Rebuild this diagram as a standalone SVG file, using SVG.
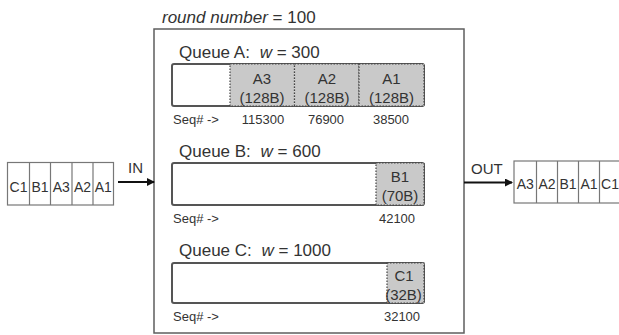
<svg xmlns="http://www.w3.org/2000/svg" width="619" height="335" viewBox="0 0 619 335">
  <style>
    .t { font-family: "Liberation Sans", Arial, sans-serif; fill: #333; }
    .title { font-size: 17px; }
    .seq { font-size: 13px; }
    .pkt { font-size: 15px; text-anchor: middle; }
    .cell { font-size: 14px; text-anchor: middle; }
    .frame { fill: #fff; stroke: #5e5e5e; stroke-width: 1.5; }
    .queue { fill: #fff; stroke: #555; stroke-width: 2; }
    .packet { fill: #c9c9c9; stroke: #444; stroke-width: 1.2; stroke-dasharray: 1.5 1.5; }
    .line { stroke: #777; stroke-width: 1.2; fill: #fff; }
    .arrow { stroke: #111; stroke-width: 2.2; fill: none; }
  </style>
  <defs>
    <marker id="head" markerWidth="8" markerHeight="8" refX="7" refY="4" orient="auto" markerUnits="userSpaceOnUse">
      <path d="M0,0 L8,4 L0,8 Z" fill="#111"/>
    </marker>
  </defs>

  <rect width="619" height="335" fill="#fff"/>

  <!-- scheduler frame -->
  <g id="scheduler">
    <text class="t title" x="162" y="22.5"><tspan font-style="italic">round number</tspan> = 100</text>
    <rect class="frame" x="154" y="29" width="310" height="304"/>
  </g>

  <!-- Queue A -->
  <g id="queueA">
    <text class="t title" x="179" y="58">Queue A: <tspan font-style="italic" dx="5">w</tspan> = 300</text>
    <rect class="queue" x="172" y="64" width="252" height="42" rx="2"/>
    <rect class="packet" x="230" y="64" width="64.5" height="42"/>
    <rect class="packet" x="294.5" y="64" width="64.5" height="42"/>
    <rect class="packet" x="359" y="64" width="65" height="42"/>
    <text class="t pkt" x="262" y="84">A3</text>
    <text class="t pkt" x="262" y="102.5">(128B)</text>
    <text class="t pkt" x="327" y="84">A2</text>
    <text class="t pkt" x="327" y="102.5">(128B)</text>
    <text class="t pkt" x="391.5" y="84">A1</text>
    <text class="t pkt" x="391.5" y="102.5">(128B)</text>
    <text class="t seq" x="173" y="124">Seq# -&gt;</text>
    <text class="t seq" x="263" y="124" text-anchor="middle">115300</text>
    <text class="t seq" x="326" y="124" text-anchor="middle">76900</text>
    <text class="t seq" x="391" y="124" text-anchor="middle">38500</text>
  </g>

  <!-- Queue B -->
  <g id="queueB">
    <text class="t title" x="179" y="157">Queue B: <tspan font-style="italic" dx="5">w</tspan> = 600</text>
    <rect class="queue" x="172" y="163" width="252" height="42" rx="2"/>
    <rect class="packet" x="376" y="163" width="48" height="42"/>
    <text class="t pkt" x="400" y="182">B1</text>
    <text class="t pkt" x="400" y="201">(70B)</text>
    <text class="t seq" x="173" y="222.5">Seq# -&gt;</text>
    <text class="t seq" x="397" y="222.5" text-anchor="middle">42100</text>
  </g>

  <!-- Queue C -->
  <g id="queueC">
    <text class="t title" x="179" y="256">Queue C: <tspan font-style="italic" dx="5">w</tspan> = 1000</text>
    <rect class="queue" x="172" y="263" width="252" height="40" rx="2"/>
    <rect class="packet" x="387" y="263" width="37" height="40"/>
    <text class="t pkt" x="404" y="280.5">C1</text>
    <text class="t pkt" x="403.5" y="299.5">(32B)</text>
    <text class="t seq" x="173" y="321">Seq# -&gt;</text>
    <text class="t seq" x="402" y="321" text-anchor="middle">32100</text>
  </g>

  <!-- arriving packets -->
  <g id="input">
    <rect class="line" x="7.5" y="162.5" width="106" height="42.5"/>
    <line class="line" x1="29.5" y1="162.5" x2="29.5" y2="205"/>
    <line class="line" x1="50.5" y1="162.5" x2="50.5" y2="205"/>
    <line class="line" x1="72" y1="162.5" x2="72" y2="205"/>
    <line class="line" x1="93" y1="162.5" x2="93" y2="205"/>
    <text class="t cell" x="18.5" y="192">C1</text>
    <text class="t cell" x="40" y="192">B1</text>
    <text class="t cell" x="61.3" y="192">A3</text>
    <text class="t cell" x="82.5" y="192">A2</text>
    <text class="t cell" x="103.3" y="192">A1</text>
  </g>

  <!-- departing packets -->
  <g id="output">
    <rect class="line" x="514" y="161" width="110" height="42"/>
    <line class="line" x1="536.5" y1="161" x2="536.5" y2="203"/>
    <line class="line" x1="557.5" y1="161" x2="557.5" y2="203"/>
    <line class="line" x1="578.5" y1="161" x2="578.5" y2="203"/>
    <line class="line" x1="599.5" y1="161" x2="599.5" y2="203"/>
    <text class="t cell" x="525.3" y="188.5" font-size="15">A3</text>
    <text class="t cell" x="547" y="188.5" font-size="15">A2</text>
    <text class="t cell" x="568" y="188.5" font-size="15">B1</text>
    <text class="t cell" x="589" y="188.5" font-size="15">A1</text>
    <text class="t cell" x="610" y="188.5" font-size="15">C1</text>
  </g>

  <!-- connectors -->
  <g id="connectors">
    <line class="arrow" x1="118" y1="182" x2="154" y2="182" marker-end="url(#head)"/>
    <text class="t" x="128" y="173" font-size="15">IN</text>
    <line class="arrow" x1="464" y1="182.5" x2="512" y2="182.5" marker-end="url(#head)"/>
    <text class="t" x="471" y="174" font-size="15">OUT</text>
  </g>
</svg>
